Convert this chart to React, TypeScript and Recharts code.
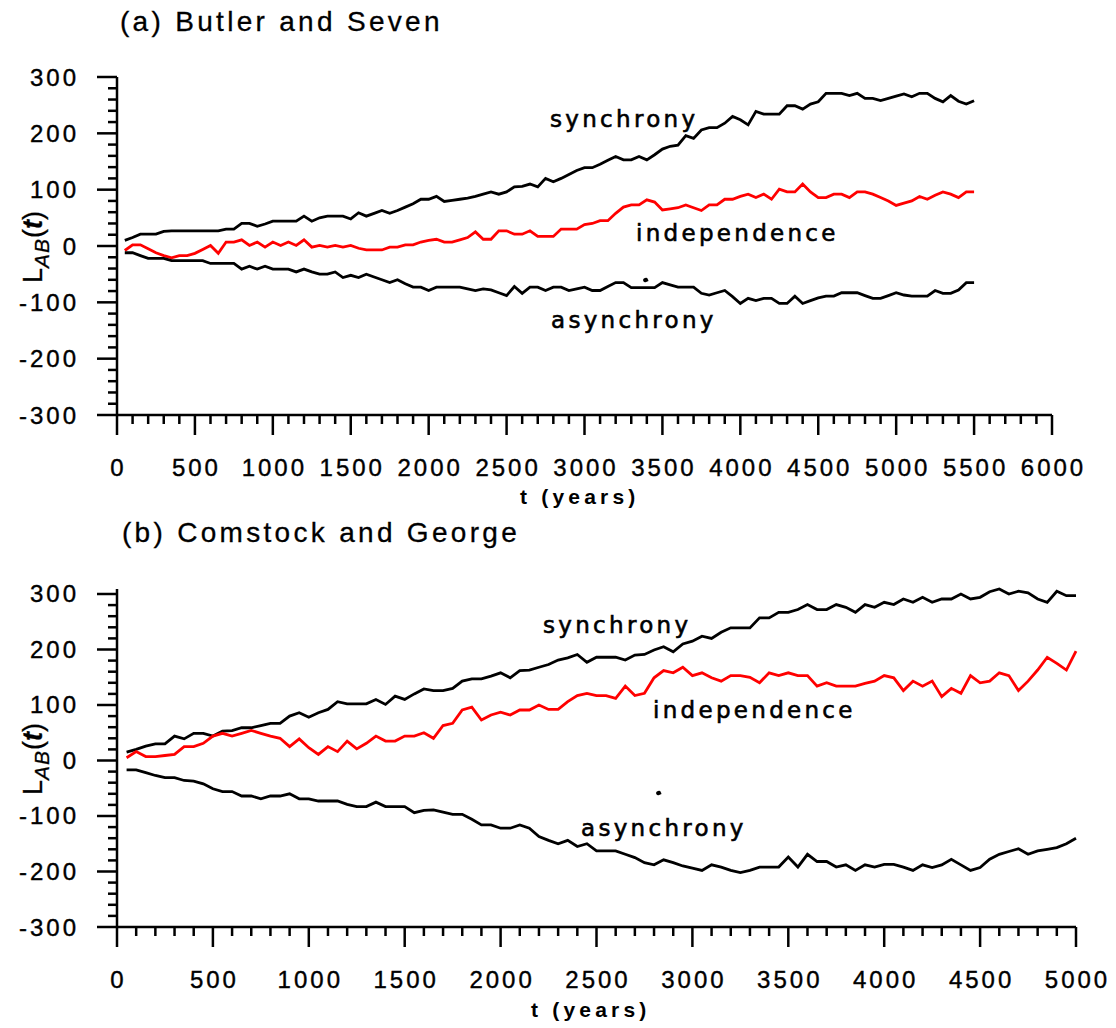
import React from "react";
import { LineChart, Line, XAxis, YAxis } from "recharts";

// years sampled every 50
const STEP = 50;
const YEARS_A = Array.from({ length: 110 }, (_, i) => STEP * (i + 1));
const YEARS_B = Array.from({ length: 100 }, (_, i) => STEP * (i + 1));

const SYNC_A = [
  10, 15, 21, 21, 21, 26, 27, 27, 27, 27,
  27, 27, 27, 30, 30, 40, 40, 35, 39, 44,
  44, 44, 44, 53, 44, 50, 53, 53, 53, 48,
  59, 53, 58, 63, 58, 63, 69, 75, 83, 83,
  88, 79, 81, 83, 85, 88, 92, 96, 92, 96,
  105, 106, 110, 105, 120, 114, 120, 127, 134, 139,
  139, 145, 152, 159, 153, 153, 159, 153, 162, 172,
  177, 179, 196, 191, 206, 210, 210, 218, 230, 224,
  215, 239, 234, 234, 234, 249, 249, 243, 252, 256,
  271, 271, 271, 267, 271, 262, 262, 258, 262, 266,
  270, 265, 271, 271, 262, 256, 267, 257, 252, 258,
];
const IND_A = [
  -8, 2, 2, -5, -12, -17, -21, -17, -17, -13,
  -6, 1, -13, 7, 7, 11, 1, 7, -2, 7,
  1, 7, 1, 11, -2, 1, -2, 1, -2, 1,
  -4, -7, -7, -7, -2, -2, 2, 2, 7, 10,
  12, 7, 7, 11, 15, 25, 12, 12, 27, 27,
  21, 21, 27, 17, 17, 17, 30, 30, 30, 38,
  40, 45, 45, 58, 69, 73, 73, 82, 78, 64,
  66, 68, 73, 68, 63, 73, 73, 83, 83, 88,
  92, 86, 92, 83, 101, 96, 96, 110, 96, 86,
  86, 92, 92, 86, 96, 96, 92, 86, 80, 72,
  76, 80, 88, 83, 90, 96, 92, 86, 96, 96,
];
const ASYNC_A = [
  -12, -12, -17, -22, -22, -22, -26, -26, -26, -26,
  -26, -31, -31, -31, -31, -41, -36, -41, -36, -41,
  -41, -41, -46, -41, -46, -50, -50, -46, -56, -52,
  -56, -50, -55, -60, -65, -60, -67, -73, -73, -79,
  -73, -73, -73, -73, -76, -79, -76, -78, -83, -88,
  -72, -84, -73, -73, -79, -73, -73, -79, -76, -73,
  -79, -79, -72, -65, -65, -74, -74, -74, -74, -65,
  -69, -73, -73, -73, -84, -87, -83, -79, -90, -102,
  -93, -97, -93, -93, -102, -102, -89, -102, -97, -92,
  -89, -89, -83, -83, -83, -88, -93, -93, -88, -83,
  -87, -89, -89, -89, -79, -84, -84, -78, -65, -65,
];

const SYNC_B = [
  15, 20, 26, 30, 30, 44, 39, 49, 49, 44,
  53, 54, 59, 59, 63, 67, 67, 80, 86, 78,
  86, 92, 106, 102, 102, 102, 110, 101, 116, 110,
  120, 129, 126, 126, 130, 143, 147, 147, 152, 158,
  149, 162, 163, 168, 173, 181, 185, 191, 177, 186,
  186, 186, 181, 190, 191, 199, 205, 196, 210, 215,
  224, 220, 231, 239, 239, 239, 257, 257, 267, 267,
  272, 281, 272, 272, 281, 276, 267, 281, 276, 285,
  281, 291, 285, 294, 285, 291, 291, 300, 291, 294,
  304, 309, 300, 305, 302, 291, 285, 305, 297, 297,
];
const IND_B = [
  5, 16, 7, 7, 9, 11, 25, 25, 31, 44,
  49, 44, 49, 54, 49, 44, 40, 25, 39, 23,
  11, 25, 16, 35, 21, 31, 44, 35, 35, 44,
  44, 50, 40, 63, 67, 91, 96, 73, 82, 87,
  82, 91, 91, 100, 92, 92, 106, 117, 121, 117,
  117, 112, 134, 117, 121, 149, 162, 158, 168, 153,
  158, 149, 143, 153, 153, 150, 140, 158, 153, 158,
  153, 153, 134, 140, 134, 134, 134, 139, 143, 153,
  149, 126, 143, 134, 143, 115, 130, 121, 153, 140,
  143, 158, 153, 126, 143, 163, 186, 175, 163, 197,
];
const ASYNC_B = [
  -17, -17, -22, -27, -31, -31, -36, -37, -42, -51,
  -56, -56, -64, -64, -69, -64, -64, -60, -69, -69,
  -73, -73, -73, -79, -83, -83, -75, -83, -83, -83,
  -94, -90, -89, -93, -97, -97, -106, -116, -116, -122,
  -122, -116, -122, -137, -144, -150, -144, -155, -150, -163,
  -163, -163, -169, -175, -184, -188, -179, -184, -190, -194,
  -198, -188, -192, -198, -202, -198, -192, -192, -192, -174,
  -192, -169, -182, -182, -192, -188, -198, -188, -192, -187,
  -187, -192, -198, -188, -193, -188, -178, -188, -198, -193,
  -178, -169, -164, -159, -169, -163, -160, -157, -150, -140,
];

const X_MAJOR_A = [0, 500, 1000, 1500, 2000, 2500, 3000, 3500, 4000, 4500, 5000, 5500, 6000];
const X_MAJOR_B = [0, 500, 1000, 1500, 2000, 2500, 3000, 3500, 4000, 4500, 5000];
const Y_MAJOR = [-300, -200, -100, 0, 100, 200, 300];
const X_MINOR_STEP = 100;
const Y_MINOR_STEP = 20;

const rows = (years: number[], s: number[], ind: number[], as: number[]) =>
  years.map((t, i) => ({ t, sync: s[i], ind: ind[i], async: as[i] }));

const minorTicks = (lo: number, hi: number, step: number) => {
  const out: number[] = [];
  for (let v = lo; v <= hi; v += step) out.push(v);
  return out;
};

const NUM_FONT = "'Liberation Sans', Arial, sans-serif";
const LBL_FONT = "'DejaVu Sans', Verdana, sans-serif";
const LINE_W = 2.8;

function XTick(props: any) {
  const { x, y, payload, majors } = props;
  const major = majors.includes(payload.value);
  return (
    <g>
      <line x1={x} x2={x} y1={y} y2={y + (major ? 20 : 9)} stroke="#000" strokeWidth={2.5} />
      {major && (
        <text x={x + 1.5} y={y + 52} textAnchor="middle" dominantBaseline="central"
          fontFamily={NUM_FONT} fontSize={24} letterSpacing={3} fill="#000"
          stroke="#000" strokeWidth={0.4}>
          {payload.value}
        </text>
      )}
    </g>
  );
}

function YTick(props: any) {
  const { x, y, payload } = props;
  const major = Y_MAJOR.includes(payload.value);
  return (
    <g>
      <line x1={x - (major ? 20 : 9)} x2={x} y1={y} y2={y} stroke="#000" strokeWidth={2.5} />
      {major && (
        <text x={x - 38} y={y} textAnchor="end" dominantBaseline="central"
          fontFamily={NUM_FONT} fontSize={24} letterSpacing={3} fill="#000"
          stroke="#000" strokeWidth={0.4}>
          {payload.value}
        </text>
      )}
    </g>
  );
}

function Panel({ data, xMax, majors, right }: { data: any[]; xMax: number; majors: number[]; right: number }) {
  return (
    <LineChart width={1116} height={512} data={data}
      margin={{ top: 77, right, bottom: 37, left: 17 }}>
      <XAxis dataKey="t" type="number" domain={[0, xMax]} ticks={minorTicks(0, xMax, X_MINOR_STEP)}
        interval={0} height={60} tickSize={0} tickMargin={0}
        axisLine={{ stroke: "#000", strokeWidth: 2.5 }} tickLine={false}
        tick={(p: any) => <XTick {...p} majors={majors} />} />
      <YAxis type="number" domain={[-300, 300]} ticks={minorTicks(-300, 300, Y_MINOR_STEP)}
        interval={0} width={100} tickSize={0} tickMargin={0}
        axisLine={{ stroke: "#000", strokeWidth: 2.5 }} tickLine={false}
        tick={(p: any) => <YTick {...p} />} />
      <Line dataKey="sync" type="linear" stroke="#000" strokeWidth={LINE_W} dot={false} isAnimationActive={false} />
      <Line dataKey="ind" type="linear" stroke="#ff0000" strokeWidth={LINE_W} dot={false} isAnimationActive={false} />
      <Line dataKey="async" type="linear" stroke="#000" strokeWidth={LINE_W} dot={false} isAnimationActive={false} />
    </LineChart>
  );
}

const abs = (left: number, top: number, extra: React.CSSProperties = {}): React.CSSProperties => ({
  position: "absolute", left, top, whiteSpace: "nowrap", lineHeight: 1, color: "#000", ...extra,
});

function YLabel({ cy }: { cy: number }) {
  return (
    <div style={abs(36, cy, {
      transform: "translate(-50%, -50%) rotate(-90deg)", fontFamily: NUM_FONT, fontSize: 27,
      WebkitTextStroke: "0.3px #000",
    })}>
      L<sub style={{ fontStyle: "italic", fontSize: 21, letterSpacing: 1 }}>AB</sub>(<span style={{ fontStyle: "italic", fontWeight: "bold" }}>t</span>)
    </div>
  );
}

function CurveLabel({ text, left, cy }: { text: string; left: number; cy: number }) {
  return (
    <div style={abs(left, cy - 13, {
      fontFamily: LBL_FONT, fontSize: 23, letterSpacing: 3.3, WebkitTextStroke: "0.6px #000",
    })}>{text}</div>
  );
}

// small stray marks present in the original figure
function Speck({ left, top }: { left: number; top: number }) {
  return (
    <div style={{ position: "absolute", left, top, width: 5, height: 4, background: "#000",
      borderRadius: "50% 50% 0 50%", transform: "rotate(-20deg)" }} />
  );
}

export default function App() {
  const dataA = rows(YEARS_A, SYNC_A, IND_A, ASYNC_A);
  const dataB = rows(YEARS_B, SYNC_B, IND_B, ASYNC_B);
  const title = { fontFamily: NUM_FONT, fontSize: 28, letterSpacing: 3.3, WebkitTextStroke: "0.3px #000" };
  const xlab = { fontFamily: NUM_FONT, fontSize: 21, fontWeight: "bold" as const, letterSpacing: 4.2 };
  return (
    <div style={{ position: "absolute", left: 0, top: 0, width: 1116, height: 1028, background: "#fff" }}>
      <div style={{ position: "absolute", left: 0, top: 0 }}>
        <Panel data={dataA} xMax={6000} majors={X_MAJOR_A} right={64} />
      </div>
      <div style={{ position: "absolute", left: 0, top: 512 }}>
        <Panel data={dataB} xMax={5000} majors={X_MAJOR_B} right={40} />
      </div>

      <div style={abs(120, 8, title)}>(a) Butler and Seven</div>
      <div style={abs(122, 519, title)}>(b) Comstock and George</div>

      <YLabel cy={247} />
      <YLabel cy={759} />

      <div style={abs(520, 486, xlab)}>t (years)</div>
      <div style={abs(531, 999, xlab)}>t (years)</div>

      <CurveLabel text="synchrony" left={550} cy={121} />
      <CurveLabel text="independence" left={636} cy={235} />
      <CurveLabel text="asynchrony" left={551} cy={322} />

      <CurveLabel text="synchrony" left={543} cy={627} />
      <CurveLabel text="independence" left={653} cy={712} />
      <CurveLabel text="asynchrony" left={581} cy={830} />

      <Speck left={643} top={278} />
      <Speck left={656} top={791} />
    </div>
  );
}
